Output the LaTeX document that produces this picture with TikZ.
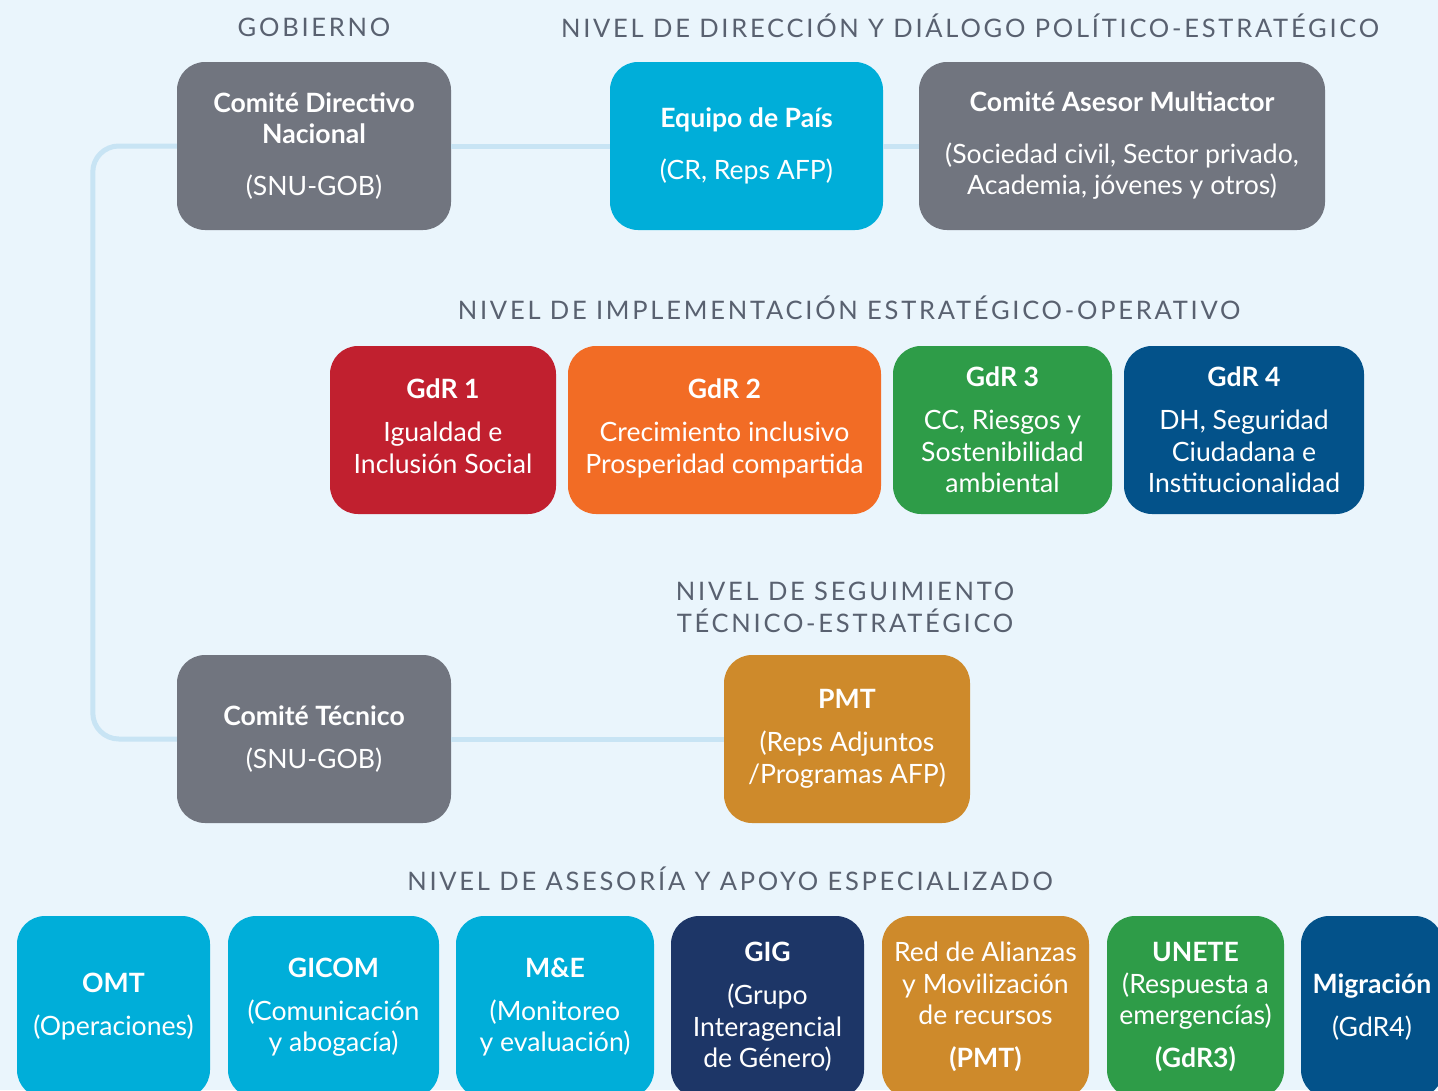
\documentclass[tikz,border=0pt]{standalone}
\usepackage{fontspec}
\setmainfont{Lato}
\definecolor{fondo}{HTML}{EAF5FC}
\definecolor{linea}{HTML}{C8E4F4}
\definecolor{gris}{HTML}{71757F}
\definecolor{cian}{HTML}{00AED9}
\definecolor{rojo}{HTML}{C1202F}
\definecolor{naranja}{HTML}{F26C25}
\definecolor{verde}{HTML}{2E9C48}
\definecolor{azul}{HTML}{03528A}
\definecolor{marino}{HTML}{1D3667}
\definecolor{ocre}{HTML}{CE8A2B}
\definecolor{titulo}{HTML}{596170}

\begin{document}
\begin{tikzpicture}[x=1pt,y=-1pt]
  \tikzstyle{caja}=[rectangle, rounded corners=28pt, text=white, align=center,
                    inner sep=0pt, font=\fontsize{26.6}{31.5}\selectfont]
  \tikzstyle{nivel}=[text=titulo, align=center,
                     font=\fontsize{25.5}{32}\selectfont\addfontfeatures{LetterSpace=10.8}]
  \tikzstyle{enlace}=[draw=linea, line width=5pt]
  \useasboundingbox (0,0) rectangle (1438,1090);
  \fill[fondo] (0,0) rectangle (1438,1090);
  \clip (0,0) rectangle (1438,1090);

  % titulos de nivel
  \node[nivel] (gob) at (314,27) {GOBIERNO};
  \node[nivel] (dir) at (970,26) {NIVEL DE DIRECCIÓN Y DIÁLOGO POLÍTICO-ESTRATÉGICO};
  \node[nivel] (imp) at (849,308) {NIVEL DE IMPLEMENTACIÓN ESTRATÉGICO-OPERATIVO};
  \node[nivel] (seg) at (845,607) {NIVEL DE SEGUIMIENTO\\TÉCNICO-ESTRATÉGICO};
  \node[nivel] (ase) at (730,879) {NIVEL DE ASESORÍA Y APOYO ESPECIALIZADO};

  % direccion
  \node[caja, fill=gris, minimum width=274pt, minimum height=168pt] (cdn) at (314,146)
       {\textbf{Comité Directivo}\\\textbf{Nacional}\\[20pt](SNU-GOB)};
  \node[caja, fill=cian, minimum width=273pt, minimum height=168pt] (ep) at (746.5,146)
       {\textbf{Equipo de País}\\[20pt](CR, Reps AFP)};
  \node[caja, fill=gris, minimum width=406pt, minimum height=168pt] (cam) at (1122,146)
       {\textbf{Comité Asesor Multiactor}\\[20pt](Sociedad civil, Sector privado,\\Academia, jóvenes y otros)};

  % grupos de resultados
  \node[caja, fill=rojo, minimum width=226pt, minimum height=168pt] (gdr1) at (443,430)
       {\textbf{GdR 1}\\[11.5pt]Igualdad e\\Inclusión Social\\[-24pt]\mbox{}};
  \node[caja, fill=naranja, minimum width=313pt, minimum height=168pt] (gdr2) at (724.5,430)
       {\textbf{GdR 2}\\[11.5pt]Crecimiento inclusivo\\Prosperidad compartida\\[-24pt]\mbox{}};
  \node[caja, fill=verde, minimum width=219pt, minimum height=168pt] (gdr3) at (1002.5,430)
       {\textbf{GdR 3}\\[11.5pt]CC, Riesgos y\\Sostenibilidad\\ambiental};
  \node[caja, fill=azul, minimum width=240pt, minimum height=168pt] (gdr4) at (1244,430)
       {\textbf{GdR 4}\\[11.5pt]DH, Seguridad\\Ciudadana e\\Institucionalidad};

  % seguimiento
  \node[caja, fill=gris, minimum width=274pt, minimum height=168pt] (ct) at (314,739)
       {\textbf{Comité Técnico}\\[11.5pt](SNU-GOB)};
  \node[caja, fill=ocre, minimum width=246pt, minimum height=168pt] (pmt) at (847,739)
       {\textbf{PMT}\\[11.5pt](Reps Adjuntos\\/Programas AFP)};

  % asesoria
  \node[caja, fill=cian, minimum width=193pt, minimum height=182pt] (omt) at (113.5,1007)
       {\textbf{OMT}\\[11.5pt](Operaciones)};
  \node[caja, fill=cian, minimum width=211pt, minimum height=182pt] (gicom) at (333.5,1007)
       {\textbf{GICOM}\\[11.5pt](Comunicación\\y abogacía)};
  \node[caja, fill=cian, minimum width=198pt, minimum height=182pt] (mye) at (555,1007)
       {\textbf{M\&E}\\[11.5pt](Monitoreo\\y evaluación)};
  \node[caja, fill=marino, minimum width=193pt, minimum height=182pt] (gig) at (767.5,1007)
       {\textbf{GIG}\\[11.5pt](Grupo\\Interagencial\\de Género)};
  \node[caja, fill=ocre, minimum width=207pt, minimum height=182pt] (red) at (985.5,1007)
       {Red de Alianzas\\y Movilización\\de recursos\\[11.5pt]\textbf{(PMT)}};
  \node[caja, fill=verde, minimum width=177pt, minimum height=182pt] (unete) at (1195.5,1007)
       {\textbf{UNETE}\\(Respuesta a\\emergencías)\\[11.5pt]\textbf{(GdR3)}};
  \node[caja, fill=azul, minimum width=142pt, minimum height=182pt] (mig) at (1372,1007)
       {\textbf{Migración}\\[11.5pt](GdR4)};

  % enlaces
  \draw[enlace] (cdn.east) -- (ep.west);
  \draw[enlace] (ep.east) -- (cam.west);
  \draw[enlace, rounded corners=26pt] (cdn.west) -- ++(-84,0) |- (ct.west);
  \draw[enlace] (ct.east) -- (pmt.west);
\end{tikzpicture}
\end{document}
